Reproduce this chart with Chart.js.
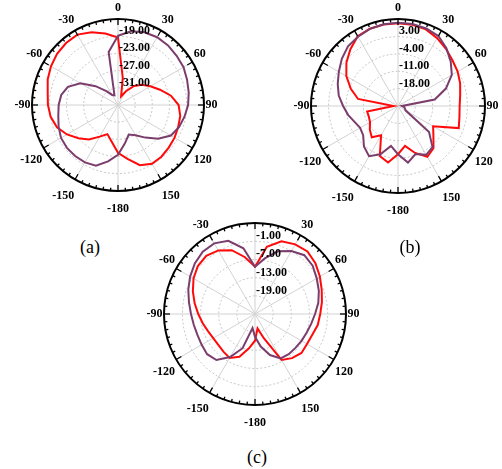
<!DOCTYPE html>
<html><head><meta charset="utf-8">
<script src="https://cdn.jsdelivr.net/npm/chart.js@4/dist/chart.umd.min.js"></script>
<style>
html,body{margin:0;padding:0;background:#fff;}
body{width:502px;height:469px;overflow:hidden;position:relative;}
canvas{position:absolute;}
.cap{position:absolute;font-family:"Liberation Serif","Times New Roman",serif;font-size:18px;transform:translate(-50%,-50%);color:#000;}
</style></head><body>
<canvas id="ca" width="240" height="230" style="left:0;top:0"></canvas>
<canvas id="cb" width="242" height="230" style="left:260px;top:0"></canvas>
<canvas id="cc" width="250" height="215" style="left:130px;top:215px"></canvas>
<div class="cap" style="left:90px;top:247px">(a)</div>
<div class="cap" style="left:410px;top:247px">(b)</div>
<div class="cap" style="left:257px;top:457px">(c)</div>
<script>
// angles (degrees, clockwise from top) of the sampled points
const angles = [0,10,20,30,40,50,60,70,80,90,100,110,120,130,140,150,160,170,180,190,200,210,220,230,240,250,260,270,280,290,300,310,320,330,340,350];
// angular axis labels at 0,30,...,330 degrees
const angleTickLabels = ['0','30','60','90','120','150','-180','-150','-120','-90','-60','-30'];

// (a)
const aRadialTicks = [-31,-27,-23,-19];
const aRed = [-19.3,-28.6,-32.9,-31.3,-29.2,-27.7,-26.3,-24.6,-22.5,-20.9,-20.3,-20.1,-19.8,-19.6,-19.3,-19.2,-20.1,-22.3,-23.9,-26.4,-27.8,-26.5,-24.5,-23.0,-21.3,-19.9,-19.1,-18.7,-18.4,-17.6,-17.0,-16.5,-16.2,-16.1,-17.0,-18.1];
const aPurple = [-18.9,-17.6,-17.0,-16.8,-16.9,-17.2,-17.4,-17.9,-18.3,-18.7,-19.3,-19.9,-20.8,-22.8,-25.1,-26.9,-27.7,-25.9,-23.4,-21.7,-20.0,-19.6,-19.5,-19.5,-19.7,-20.3,-20.9,-21.2,-21.6,-22.6,-24.9,-28.2,-30.8,-32.3,-32.6,-22.5];

// (b)
const bRadialTicks = [-18,-11,-4,3];
const bRed = [8.3,8.2,7.8,6.5,5.0,3.6,2.7,1.6,0.4,-0.2,0.1,1.0,-8.7,-6.4,-2.8,-1.4,-4.9,-8.7,-5.6,-1.9,-3.6,-11.4,-8.6,-10.2,-12.0,-12.5,-12.4,-23.2,-8.7,-4.8,-1.0,2.1,4.8,7.4,8.1,8.3];
const bPurple = [8.5,8.5,8.2,7.5,5.3,2.7,0.0,-4.5,-10.0,-23.4,-22.5,-22.0,-21.5,-8.7,-3.4,-2.3,-4.4,-1.9,-5.6,-8.7,-4.3,-1.7,-3.7,-6.7,-7.4,-6.4,-4.6,-2.9,-0.8,0.8,2.5,4.5,6.3,7.2,8.0,8.4];

// (c)
const cRadialTicks = [-19,-13,-7,-1];
const cRed = [-9.4,-2.5,0.5,1.5,1.9,1.0,-0.3,-1.6,-2.6,-3.5,-4.0,-4.9,-5.2,-5.0,-6.0,-7.5,-16.5,-20.2,-16.2,-13.5,-10.0,-8.3,-8.8,-9.2,-9.1,-8.5,-7.5,-6.3,-4.8,-3.2,-1.6,-0.4,0.0,-0.8,-2.6,-6.0];
const cPurple = [-9.4,-6.4,-3.0,-1.0,0.3,-0.2,-1.5,-2.6,-3.8,-5.2,-6.2,-6.9,-7.3,-7.6,-7.7,-8.1,-10.6,-14.1,-17.5,-20.3,-13.0,-8.6,-5.2,-4.4,-4.7,-4.8,-4.5,-3.9,-2.9,-1.6,-0.3,0.9,1.8,1.9,0.7,-3.0];

const RED = '#ff0a0a';
const PURPLE = '#7b3d6c';
const FONT = '"Liberation Serif","Times New Roman",serif';

const decor = {
  id: 'decor',
  afterDraw(chart) {
    const s = chart.scales.r;
    const ctx = chart.ctx;
    const xc = s.xCenter, yc = s.yCenter, R = s.drawingArea;
    ctx.save();
    ctx.strokeStyle = '#000';
    ctx.lineWidth = 2;
    ctx.beginPath();
    ctx.arc(xc, yc, R, 0, Math.PI * 2);
    ctx.stroke();
    ctx.lineWidth = 1.3;
    for (let d = 0; d < 360; d += 5) {
      const a = d * Math.PI / 180;
      const len = d % 30 === 0 ? 6 : 3;
      const sn = Math.sin(a), cs = Math.cos(a);
      ctx.beginPath();
      ctx.moveTo(xc + R * sn, yc - R * cs);
      ctx.lineTo(xc + (R - len) * sn, yc - (R - len) * cs);
      ctx.stroke();
    }
    ctx.fillStyle = '#000';
    ctx.font = 'bold 12px ' + FONT;
    angleTickLabels.forEach((lab, i) => {
      const d = i * 30;
      const a = d * Math.PI / 180;
      const sn = Math.sin(a), cs = Math.cos(a);
      const gx = R + 1.5;
      const gy = R + (cs > 0 ? 5 : 12);
      const x = xc + gx * sn, y = yc - gy * cs;
      ctx.textAlign = Math.abs(sn) < 0.05 ? 'center' : (sn > 0 ? 'left' : 'right');
      ctx.textBaseline = Math.abs(cs) < 0.05 ? 'middle' : (cs > 0 ? 'bottom' : 'top');
      ctx.fillText(lab, x, y);
    });
    const ticks = chart.options.plugins.decor.ticks;
    ctx.textAlign = 'left';
    ctx.textBaseline = 'bottom';
    ticks.forEach(v => {
      const r = s.getDistanceFromCenterForValue(v);
      ctx.fillText(v.toFixed(2), xc + 1, yc - r + 1);
    });
    ctx.restore();
  }
};

function makeChart(id, red, purple, min, max, step, ticks, pad) {
  return new Chart(document.getElementById(id), {
    type: 'radar',
    data: {
      labels: angles.map(String),
      datasets: [
        { data: purple, borderColor: PURPLE, borderWidth: 2, pointRadius: 0, fill: false, tension: 0 },
        { data: red, borderColor: RED, borderWidth: 2, pointRadius: 0, fill: false, tension: 0 }
      ]
    },
    options: {
      responsive: false,
      animation: false,
      devicePixelRatio: 1,
      layout: { padding: pad },
      plugins: { legend: { display: false }, tooltip: { enabled: false }, decor: { ticks: ticks } },
      scales: {
        r: {
          min: min, max: max,
          ticks: { display: false, stepSize: step },
          pointLabels: { display: false },
          grid: { color: '#c9c9c9', lineWidth: 1 },
          border: { dash: [2, 2] },
          angleLines: {
            color: c => (c.index % 3 === 0 ? '#d2d2d2' : 'rgba(0,0,0,0)'),
            lineWidth: c => (c.index % 3 === 0 ? 1 : 0)
          }
        }
      }
    },
    plugins: [decor]
  });
}

// (a): centre (118,105.5) radius 86 ; (b): centre (398,106) radius 87 ; (c): centre (255,314) radius 91
makeChart('ca', aRed, aPurple, -35, -15, 4, aRadialTicks, { left: 32, top: 19, right: 36, bottom: 39 });
makeChart('cb', bRed, bPurple, -25, 10, 7, bRadialTicks, { left: 51, top: 19, right: 17, bottom: 37 });
makeChart('cc', cRed, cPurple, -25, 5, 6, cRadialTicks, { left: 34, top: 8, right: 34, bottom: 25 });
</script>
</body></html>
